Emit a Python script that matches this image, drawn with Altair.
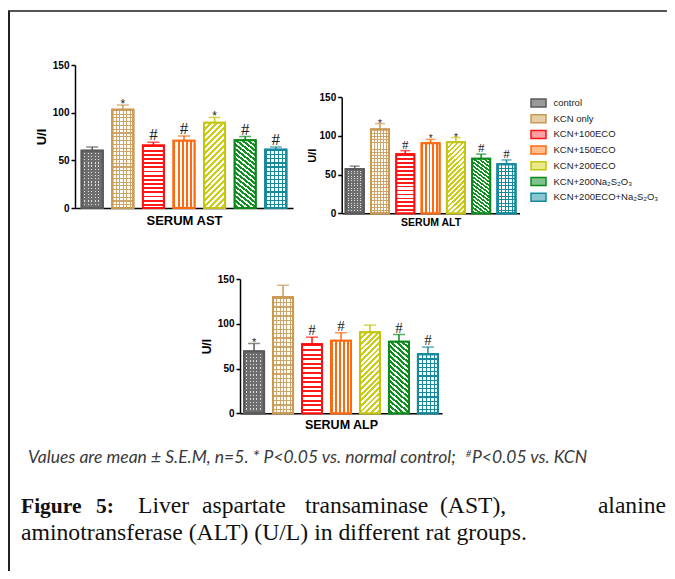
import altair as alt
import pandas as pd

# ---------------- data ----------------
groups = ["control", "KCN only", "KCN+100ECO", "KCN+150ECO", "KCN+200ECO",
          "KCN+200Na₂S₂O₃", "KCN+200ECO+Na₂S₂O₃"]
stroke_colors = ["#5a5a5a", "#c99a55", "#ff1010", "#ff6a10", "#c4c412", "#0b8a1a", "#168a9c"]
fill_colors = ["#9a9a9a", "#e6cfa6", "#ffa0a0", "#ffbf8c", "#e9e98a", "#7fc48a", "#8ac6cf"]

ast_mean = [60, 103, 65.5, 70.5, 89.5, 71, 61]
ast_upper = [64, 108, 69, 75.5, 95, 75, 64]
ast_sig = ["", "*", "#", "#", "*", "#", "#"]

alt_mean = [57, 108.5, 76.5, 90.5, 92, 70.5, 63.5]
alt_upper = [61, 116, 81, 95.5, 98, 76.5, 69]
alt_sig = ["", "*", "#", "*", "*", "#", "#"]

alp_mean = [69, 129.5, 77, 81, 90.5, 80, 66]
alp_upper = [78, 143, 85, 90, 98.5, 88, 74]
alp_sig = ["*", "", "#", "#", "", "#", "#"]

y_ticks = [0, 50, 100, 150]

caption_note_a = "Values are mean ± S.E.M, n=5. * P<0.05 vs. normal control; "
caption_note_sup = "#"
caption_note_b = "P<0.05 vs. KCN"
caption_line1_words = ["Figure", "5:", "Liver", "aspartate", "transaminase", "(AST),", "alanine"]
caption_line1_x = [13, 88, 130, 194, 297, 432, 658]
caption_line2 = "aminotransferase (ALT) (U/L) in different rat groups."

W, H = 659, 563
SANS = "Liberation Sans"
CLEAR = "rgba(255,255,255,0)"


# ---------------- fill patterns (style only) ----------------
def stripes(n, duty, c, bg, x1, y1, x2, y2):
    stops = []
    for k in range(n):
        a, b, e = k / n, (k + duty) / n, (k + 1) / n
        stops += [{"offset": a, "color": c}, {"offset": b, "color": c},
                  {"offset": b, "color": bg}, {"offset": e, "color": bg}]
    return {"gradient": "linear", "x1": x1, "y1": y1, "x2": x2, "y2": y2, "stops": stops}


HOR = (0, 0, 0, 1)      # horizontal stripes
VER = (0, 0, 1, 0)      # vertical stripes
FWD = (0, 0, 0.29, 1.18)   # "////"
BCK = (1, 0, 0.71, 1.18)   # "\\\\"

patterns = {
    "control": [stripes(6, 0.7, "#6e6e6e", "#e0e0e0", *VER),
                stripes(18, 0.6, "#6e6e6e", CLEAR, *HOR)],
    "KCN only": [stripes(6, 0.3, "#cfa468", "#ffffff", *VER),
                 stripes(26, 0.3, "#cfa468", CLEAR, *HOR)],
    "KCN+100ECO": [stripes(15, 0.45, "#ff1a1a", "#ffffff", *HOR)],
    "KCN+150ECO": [stripes(5, 0.45, "#ff6a10", "#ffffff", *VER)],
    "KCN+200ECO": [stripes(18, 0.5, "#cccc1a", "#ffffff", *FWD)],
    "KCN+200Na₂S₂O₃": [stripes(18, 0.55, "#119022", "#ffffff", *BCK)],
    "KCN+200ECO+Na₂S₂O₃": [stripes(5, 0.3, "#168a9c", "#ffffff", *VER),
                           stripes(14, 0.3, "#168a9c", CLEAR, *HOR)],
}

fill_scale = alt.Scale(domain=groups, range=fill_colors)
stroke_scale = alt.Scale(domain=groups, range=stroke_colors)
legend = alt.Legend(
    orient="none", legendX=524.5, legendY=89, title=None,
    symbolType="M-1.5,-0.8H1.5V0.8H-1.5Z", symbolSize=100, symbolStrokeWidth=1.5,
    symbolOpacity=1, labelFont=SANS, labelFontSize=9.5, labelColor="#222",
    rowPadding=1.7, labelOffset=9,
)


def panel(title, mean, upper, sig, xr, yr, pin, pout, lab_size, xt_size, yt_size,
          yt_pad, xt_pad, cap, star_size, hash_size):
    df = pd.DataFrame({"group": groups, "mean": mean, "upper": upper, "sig": sig})
    xs = alt.Scale(domain=groups, range=xr, paddingInner=pin, paddingOuter=pout)
    ys = alt.Scale(domain=[0, 150], range=yr, nice=False, zero=True)
    xaxis = alt.Axis(orient="bottom", offset=yr[0] - H, labels=False, ticks=False,
                     title=title, titleFont=SANS, titleFontSize=xt_size,
                     titleFontWeight="bold", titleColor="black", titlePadding=xt_pad,
                     domainColor="black", domainWidth=1.5, grid=False)
    yaxis = alt.Axis(orient="left", offset=-xr[0], values=y_ticks, grid=False,
                     title="U/I", titleFont=SANS, titleFontSize=yt_size,
                     titleFontWeight="bold", titleColor="black", titlePadding=yt_pad,
                     labelFont=SANS, labelFontSize=lab_size, labelFontWeight="bold",
                     labelColor="black", labelPadding=2, tickSize=4, tickWidth=1.5,
                     tickColor="black", domainColor="black", domainWidth=1.5)
    x = alt.X("group:N", scale=xs, axis=xaxis, sort=groups)
    y = alt.Y("mean:Q", scale=ys, axis=yaxis)
    base = alt.Chart(df)
    layers = [base.mark_bar(strokeWidth=2).encode(
        x=x, y=y,
        fill=alt.Fill("group:N", scale=fill_scale, legend=legend, sort=groups),
        stroke=alt.Stroke("group:N", scale=stroke_scale, legend=legend, sort=groups),
    )]
    for g, sc in zip(groups, stroke_colors):
        for grad in patterns[g]:
            layers.append(base.transform_filter(alt.datum.group == g).mark_bar(
                fill=grad, stroke=sc, strokeWidth=2).encode(x=x, y=y))
    layers.append(base.mark_rule(strokeWidth=1.5).encode(
        x=x, y=y, y2="upper:Q",
        color=alt.Color("group:N", scale=stroke_scale, legend=None)))
    layers.append(base.mark_tick(thickness=1.5, size=cap).encode(
        x=x, y=alt.Y("upper:Q", scale=ys, axis=yaxis),
        color=alt.Color("group:N", scale=stroke_scale, legend=None)))
    layers.append(base.transform_filter("datum.sig == '*'").mark_text(
        font=SANS, fontSize=star_size, color="#222", baseline="alphabetic", dy=3
    ).encode(x=x, y=alt.Y("upper:Q", scale=ys, axis=yaxis), text="sig:N"))
    layers.append(base.transform_filter("datum.sig == '#'").mark_text(
        font="Liberation Serif", fontSize=hash_size, color="#222",
        baseline="alphabetic", dy=-2
    ).encode(x=x, y=alt.Y("upper:Q", scale=ys, axis=yaxis), text="sig:N"))
    return alt.layer(*layers)


ast = panel("SERUM AST", ast_mean, ast_upper, ast_sig, [67, 285], [200, 57],
            0.315, 0.22, 10, 13, 13, 4, 6, 12, 12, 17)
alt_p = panel("SERUM ALT", alt_mean, alt_upper, alt_sig, [333.7, 511.5], [205.3, 89.3],
              0.29, 0.16, 10, 10.5, 11, 1.5, 4, 10, 10, 13)
alp = panel("SERUM ALP", alp_mean, alp_upper, alp_sig, [232, 434], [405.3, 271],
            0.31, 0.14, 10, 12.5, 12, 4, 5, 12, 11, 15)

one = pd.DataFrame({"k": [0]})
top_line = alt.Chart(one).mark_rule(color="#555", strokeWidth=2).encode(
    x=alt.value(0), x2=alt.value(W), y=alt.value(3))
left_line = alt.Chart(one).mark_rule(color="#222", strokeWidth=2).encode(
    x=alt.value(1), y=alt.value(3), y2=alt.value(H))

NOTE = dict(font="Lato", fontStyle="italic", color="#3a3a3a", baseline="alphabetic")
note_a = alt.Chart(one).mark_text(text=caption_note_a, fontSize=17.5, align="left", **NOTE
                                  ).encode(x=alt.value(20), y=alt.value(455))
note_sup = alt.Chart(one).mark_text(text=caption_note_sup, fontSize=10, align="right", **NOTE
                                    ).encode(x=alt.value(463.5), y=alt.value(448.5))
note_b = alt.Chart(one).mark_text(text=caption_note_b, fontSize=17.5, align="left", **NOTE
                                  ).encode(x=alt.value(464), y=alt.value(455))

word_layers = []
for i, (wd, xp) in enumerate(zip(caption_line1_words, caption_line1_x)):
    word_layers.append(alt.Chart(one).mark_text(
        text=wd, font="Liberation Serif", fontSize=21.5 if i < 2 else 23.6, color="#111",
        fontWeight="bold" if i < 2 else "normal",
        align="right" if i == len(caption_line1_words) - 1 else "left",
        baseline="alphabetic").encode(x=alt.value(xp), y=alt.value(505)))
line2 = alt.Chart(one).mark_text(
    text=caption_line2, font="Liberation Serif", fontSize=23.7, color="#111",
    align="left", baseline="alphabetic").encode(x=alt.value(13), y=alt.value(532))

chart = alt.layer(
    top_line, left_line, ast, alt_p, alp, note_a, note_sup, note_b, *word_layers, line2
).resolve_scale(
    x="independent", y="independent"
).resolve_axis(
    x="independent", y="independent"
).properties(
    width=W, height=H, autosize=alt.AutoSizeParams(type="none"), padding=0
).configure_view(strokeWidth=0)

chart.save("out.html", embed_options={"renderer": "svg", "actions": False})
